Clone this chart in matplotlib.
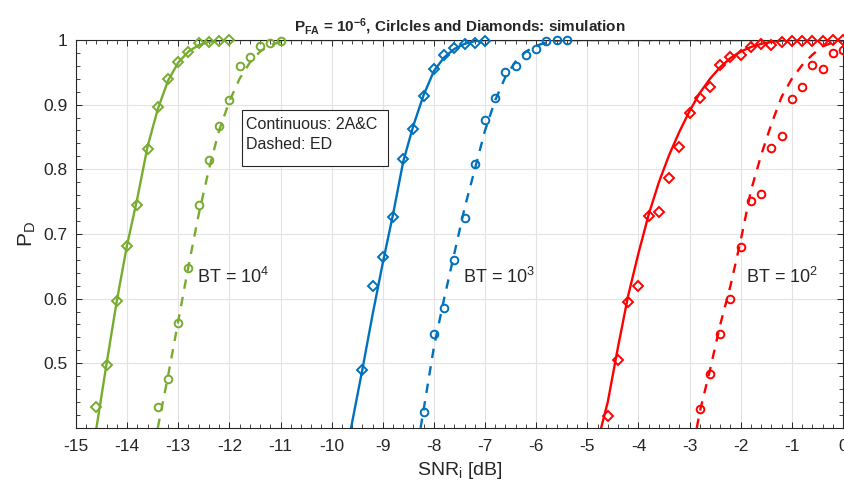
import matplotlib
matplotlib.use("Agg")
import matplotlib.pyplot as plt
from matplotlib.patches import Rectangle
from matplotlib.ticker import MultipleLocator, FormatStrFormatter

plt.rcParams['font.family'] = ['Liberation Sans', 'DejaVu Sans']
plt.rcParams['mathtext.fontset'] = 'custom'
plt.rcParams['mathtext.rm'] = 'Liberation Sans'
plt.rcParams['mathtext.bf'] = 'Liberation Sans:bold'
plt.rcParams['mathtext.it'] = 'Liberation Sans:italic'
plt.rcParams['mathtext.default'] = 'regular'
plt.rcParams['axes.unicode_minus'] = False

# ---- BT = 10^4 (green) ----
g_sim_x = [-14.6, -14.4, -14.2, -14.0, -13.8, -13.6, -13.4, -13.2, -13.0, -12.8, -12.6, -12.4, -12.2, -12.0]
g_sim_y = [0.432, 0.497, 0.597, 0.681, 0.745, 0.832, 0.896, 0.940, 0.966, 0.981, 0.995, 0.997, 0.998, 1.0]
g_ed_sim_x = [-13.4, -13.2, -13.0, -12.8, -12.6, -12.4, -12.2, -12.0, -11.8, -11.6, -11.4, -11.2, -11.0]
g_ed_sim_y = [0.432, 0.475, 0.563, 0.648, 0.745, 0.814, 0.867, 0.907, 0.960, 0.974, 0.990, 0.996, 0.998]
g_th_x = [-14.6, -14.4, -14.2, -14.0, -13.8, -13.6, -13.4, -13.2, -13.0, -12.8, -12.6, -12.4, -12.2, -12.0, 0.0]
g_th_y = [0.40, 0.50, 0.597, 0.683, 0.755, 0.835, 0.893, 0.937, 0.965, 0.982, 0.992, 0.997, 0.999, 1.0, 1.0]
g_ed_x = [-13.4, -13.2, -13.0, -12.8, -12.6, -12.4, -12.2, -12.0, -11.8, -11.6, -11.4, -11.2, -11.0, -10.8, 0.0]
g_ed_y = [0.40, 0.48, 0.565, 0.65, 0.73, 0.80, 0.86, 0.905, 0.94, 0.965, 0.982, 0.992, 0.997, 1.0, 1.0]

# ---- BT = 10^3 (blue) ----
b_sim_x = [-9.4, -9.2, -9.0, -8.8, -8.6, -8.4, -8.2, -8.0, -7.8, -7.6, -7.4, -7.2, -7.0]
b_sim_y = [0.490, 0.620, 0.665, 0.726, 0.816, 0.863, 0.914, 0.955, 0.976, 0.988, 0.993, 0.995, 0.999]
b_ed_sim_x = [-8.2, -8.0, -7.8, -7.6, -7.4, -7.2, -7.0, -6.8, -6.6, -6.4, -6.2, -6.0, -5.8, -5.6, -5.4]
b_ed_sim_y = [0.425, 0.546, 0.585, 0.659, 0.725, 0.808, 0.876, 0.910, 0.951, 0.960, 0.977, 0.986, 0.999, 1.0, 1.0]
b_th_x = [-9.62, -9.4, -9.2, -9.0, -8.8, -8.6, -8.4, -8.2, -8.0, -7.8, -7.6, -7.4, -7.2, -7.0, 0.0]
b_th_y = [0.40, 0.49, 0.575, 0.655, 0.73, 0.812, 0.868, 0.915, 0.952, 0.973, 0.986, 0.994, 0.998, 1.0, 1.0]
b_ed_x = [-8.26, -8.0, -7.8, -7.6, -7.4, -7.2, -7.0, -6.8, -6.6, -6.4, -6.2, -6.0, -5.8, -5.6, -5.4, 0.0]
b_ed_y = [0.40, 0.525, 0.60, 0.67, 0.74, 0.80, 0.86, 0.907, 0.943, 0.967, 0.982, 0.991, 0.996, 0.999, 1.0, 1.0]

# ---- BT = 10^2 (red) ----
r_sim_x = [-4.6, -4.4, -4.2, -4.0, -3.8, -3.6, -3.4, -3.2, -3.0, -2.8, -2.6, -2.4, -2.2, -2.0,
           -1.8, -1.6, -1.4, -1.2, -1.0, -0.8, -0.6, -0.4, -0.2, 0.0]
r_sim_y = [0.418, 0.505, 0.595, 0.619, 0.728, 0.734, 0.787, 0.834, 0.887, 0.910, 0.927, 0.962, 0.973, 0.977,
           0.989, 0.994, 0.992, 0.997, 0.998, 0.998, 0.999, 0.999, 1.0, 1.0]
r_ed_sim_x = [-2.8, -2.6, -2.4, -2.2, -2.0, -1.8, -1.6, -1.4, -1.2, -1.0, -0.8, -0.6, -0.4, -0.2, 0.0]
r_ed_sim_y = [0.430, 0.483, 0.545, 0.599, 0.680, 0.751, 0.762, 0.833, 0.851, 0.908, 0.927, 0.961, 0.955, 0.980, 0.984]
r_th_x = [-4.73, -4.6, -4.4, -4.2, -4.0, -3.8, -3.6, -3.4, -3.2, -3.0, -2.8, -2.6, -2.4, -2.2, -2.0,
          -1.8, -1.6, -1.4, -1.2, -1.0, -0.8, 0.0]
r_th_y = [0.40, 0.44, 0.525, 0.605, 0.67, 0.73, 0.78, 0.822, 0.858, 0.89, 0.918, 0.94, 0.958, 0.972, 0.982,
          0.989, 0.994, 0.997, 0.999, 1.0, 1.0, 1.0]
r_ed_x = [-2.86, -2.8, -2.6, -2.4, -2.2, -2.0, -1.8, -1.6, -1.4, -1.2, -1.0, -0.8, -0.6, -0.4, -0.2, 0.0]
r_ed_y = [0.40, 0.425, 0.49, 0.56, 0.62, 0.69, 0.767, 0.822, 0.87, 0.912, 0.94, 0.961, 0.977, 0.99, 0.996, 0.999]

bt_labels = [r'BT = 10$^4$', r'BT = 10$^3$', r'BT = 10$^2$']
bt_label_x = [-12.63, -7.44, -1.90]
bt_label_y = 0.633

green = '#77AC30'
blue = '#0072BD'
red = '#FF0000'

fig = plt.figure(figsize=(8.44, 4.93), dpi=100)
ax = fig.add_axes([0.090, 0.132, 0.9088, 0.787])

mk = dict(linestyle='none', markerfacecolor='none', markeredgewidth=1.4, clip_on=False, zorder=3)
lw = 1.7

series = [
    (red, r_th_x, r_th_y, r_ed_x, r_ed_y, r_sim_x, r_sim_y, r_ed_sim_x, r_ed_sim_y),
    (blue, b_th_x, b_th_y, b_ed_x, b_ed_y, b_sim_x, b_sim_y, b_ed_sim_x, b_ed_sim_y),
    (green, g_th_x, g_th_y, g_ed_x, g_ed_y, g_sim_x, g_sim_y, g_ed_sim_x, g_ed_sim_y),
]
for c, tx, ty, ex, ey, sx, sy, esx, esy in series:
    ax.plot(tx, ty, '-', color=c, lw=lw, zorder=2)
    ax.plot(ex, ey, '--', color=c, lw=lw, dashes=(4, 3.5), zorder=2)
    ax.plot(sx, sy, marker='D', markersize=5.5, markeredgecolor=c, **mk)
    ax.plot(esx, esy, marker='o', markersize=5.5, markeredgecolor=c, **mk)

ax.set_xlim(-15, 0)
ax.set_ylim(0.4, 1)
ax.set_xticks(range(-15, 1))
ax.set_yticks([0.5, 0.6, 0.7, 0.8, 0.9, 1.0])
ax.yaxis.set_major_formatter(FormatStrFormatter('%g'))
ax.xaxis.set_minor_locator(MultipleLocator(0.2))
ax.yaxis.set_minor_locator(MultipleLocator(0.02))
ax.tick_params(which='both', direction='in', top=True, right=True, color='#262626')
ax.tick_params(which='major', length=4, width=0.7, labelsize=12.5, colors='#262626')
ax.tick_params(which='minor', length=3, width=0.6)
ax.tick_params(axis='x', which='major', pad=8)
ax.tick_params(axis='y', which='major', pad=6)
ax.grid(True, which='major', color='#e3e3e3', lw=0.8)
ax.set_axisbelow(True)
for s in ax.spines.values():
    s.set_color('#262626')
    s.set_linewidth(0.8)

ax.set_xlabel(r'SNR$_\mathrm{i}$ [dB]', fontsize=14, color='#262626', labelpad=4)
ax.set_ylabel(r'P$_\mathrm{D}$', fontsize=15, color='#262626', labelpad=4)
ax.set_title(r'$\mathbf{P_{FA}}$ = $\mathbf{10^{-6}}$, Cirlcles and Diamonds: simulation',
             fontsize=11, fontweight='bold', color='#262626', pad=6)

for lab, lx in zip(bt_labels, bt_label_x):
    ax.text(lx, bt_label_y, lab, fontsize=13, va='center', ha='left', color='#262626')

# note box for line styles
ax.add_patch(Rectangle((0.216, 0.675), 0.191, 0.144, transform=ax.transAxes,
                       facecolor='white', edgecolor='#262626', lw=0.8, zorder=4))
ax.text(0.2216, 0.783, 'Continuous: 2A&C', transform=ax.transAxes, fontsize=11.5,
        va='center', ha='left', color='#262626', zorder=5)
ax.text(0.2216, 0.731, 'Dashed: ED', transform=ax.transAxes, fontsize=11.5,
        va='center', ha='left', color='#262626', zorder=5)

fig.savefig('out.png', dpi=100)
